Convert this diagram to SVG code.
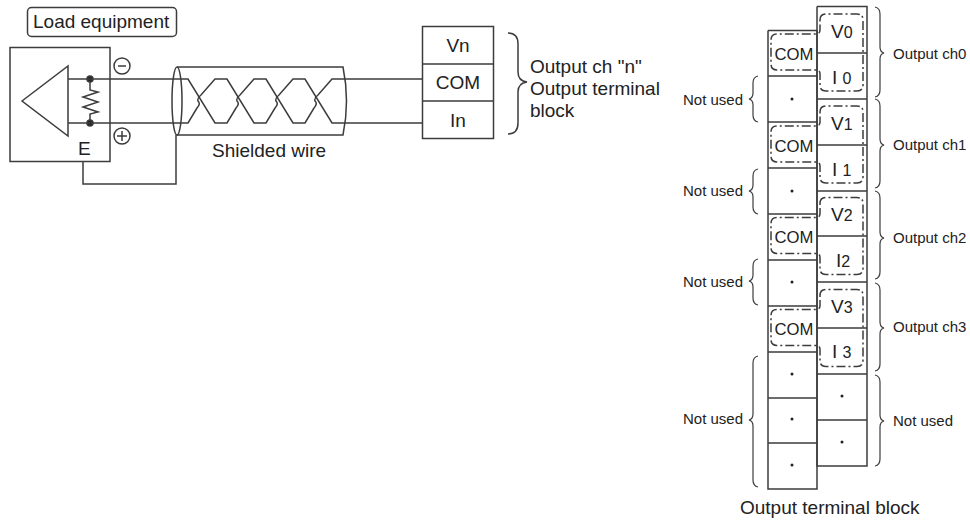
<svg xmlns="http://www.w3.org/2000/svg" width="970" height="520" viewBox="0 0 970 520">
<defs>
<path id="dash" d="M820 20Q820 14 826 14H857Q863 14 863 20V85Q863 91 857 91H826Q820 91 820 85V74Q820 70 816 70H777Q771 70 771 64V40Q771 34 777 34H816Q820 34 820 30Z"/>
</defs>
<style>
text{font-family:"Liberation Sans",Arial,sans-serif;fill:#222;font-size:19px}
.s{font-size:15px}
.m{font-size:16.700px}
.c{text-anchor:middle}
.sub{font-size:16px}
path,rect,line,circle,ellipse,polygon{stroke:#3c3c3c;stroke-width:1.5;fill:none}
.dd{stroke-dasharray:9 3 2 3;stroke-width:1.3;fill:none;stroke:#3c3c3c}
.d{fill:#222;stroke:none}
</style>
<rect width="970" height="520" style="fill:#fff;stroke:none"/>
<g id="load-label"><rect x="27.500" y="7.500" width="149" height="29" rx="4"/><text x="33" y="28">Load equipment</text></g>
<g id="load-equipment">
<rect x="10" y="47.500" width="100" height="114"/>
<polygon points="22,101 68,66 68,136"/>
<path d="M90 79V90L98 92L83 97L98 102L83 107L98 112L90 114V123"/>
<circle cx="90" cy="79" r="3" style="fill:#222"/><circle cx="90" cy="123" r="3" style="fill:#222"/>
<circle cx="122" cy="66" r="8"/><path d="M118 66H126"/>
<circle cx="122" cy="136" r="8"/><path d="M117 136H127M122 131V141"/>
<text x="78" y="155">E</text>
</g>
<g id="connectors">
<path d="M68 79H188L215 123H227L236 108Q240 104 237 101Q236 98 240 95L254 79H266L293 123H305L314 108Q318 104 315 101Q314 98 318 95L332 79H422"/>
<path d="M68 123H188L197 108Q201 104 198 101Q197 98 201 95L215 79H227L254 123H266L275 108Q279 104 276 101Q275 98 279 95L293 79H305L332 123H422"/>
<path d="M83 162V184H176V135"/>
</g>
<g id="shielded-wire">
<ellipse cx="177" cy="101" rx="5" ry="34"/>
<path d="M177 67H343Q350 101 343 135H177"/>
<text x="212" y="157">Shielded wire</text>
</g>
<g id="terminal-block-n">
<rect x="422.500" y="26.500" width="71" height="112"/>
<path d="M422 64H493M422 101H493"/>
<text x="458" y="52" class="c">Vn</text><text x="458" y="89" class="c">COM</text><text x="458" y="127" class="c">In</text>
<path d="M508 33Q518 33 518 44V72Q518 81 527 82Q518 83 518 92V123Q518 134 508 134"/>
<text x="530" y="73">Output ch "n"</text><text x="530" y="95">Output terminal</text><text x="530" y="117">block</text>
</g>
<g id="output-terminal-block">
<path d="M817 6.500H867V466H817V6.500M817 53H867M817 99H867M817 145H867M817 191H867M817 236H867M817 282H867M817 328H867M817 374H867M817 420H867"/>
<path d="M768 30.500H817M768 30.500V489H817V30M768 76H817M768 122H817M768 168H817M768 214H817M768 260H817M768 306H817M768 352H817M768 398H817M768 443H817"/>
<use href="#dash" class="dd"/>
<use href="#dash" y="92" class="dd"/>
<use href="#dash" y="183.500" class="dd"/>
<use href="#dash" y="275.500" class="dd"/>
<text x="831" y="38">V<tspan class="sub">0</tspan></text><text x="832" y="84">I <tspan class="sub">0</tspan></text>
<text x="831" y="130">V<tspan class="sub">1</tspan></text><text x="832" y="176">I <tspan class="sub">1</tspan></text>
<text x="831" y="221">V<tspan class="sub">2</tspan></text><text x="836" y="267">I<tspan class="sub">2</tspan></text>
<text x="831" y="313">V<tspan class="sub">3</tspan></text><text x="832" y="358">I <tspan class="sub">3</tspan></text>
<text x="794" y="60" class="m c">COM</text><text x="794" y="152" class="m c">COM</text><text x="794" y="243" class="m c">COM</text><text x="794" y="335" class="m c">COM</text>
<circle class="d" cx="792" cy="99" r="1.500"/><circle class="d" cx="792" cy="191" r="1.500"/><circle class="d" cx="792" cy="282" r="1.500"/><circle class="d" cx="792" cy="374" r="1.500"/><circle class="d" cx="792" cy="419" r="1.500"/><circle class="d" cx="792" cy="465" r="1.500"/><circle class="d" cx="842" cy="396" r="1.500"/><circle class="d" cx="842" cy="442" r="1.500"/>
<g>
<path style="stroke-width:1.200" d="M875 7Q880 8 880 14V47Q880 52 884 53Q880 54 880 59V90Q880 96 875 97"/>
<path style="stroke-width:1.200" d="M875 99Q880 100 880 106V139Q880 144 884 145Q880 146 880 151V181Q880 187 875 188"/>
<path style="stroke-width:1.200" d="M875 191Q880 192 880 198V232Q880 237 884 238Q880 239 880 244V272Q880 278 875 279"/>
<path style="stroke-width:1.200" d="M875 283Q880 284 880 290V322Q880 327 884 328Q880 329 880 334V364Q880 370 875 371"/>
<path style="stroke-width:1.200" d="M875 375Q880 376 880 382V415Q880 420 884 421Q880 422 880 427V459Q880 465 875 466"/>
<path style="stroke-width:1.200" d="M758 76Q753 77 753 83V93Q753 98 749 99Q753 100 753 105V115Q753 121 758 122"/>
<path style="stroke-width:1.200" d="M758 169Q753 170 753 176V185Q753 190 749 191Q753 192 753 197V207Q753 213 758 214"/>
<path style="stroke-width:1.200" d="M758 259Q753 260 753 266V275Q753 280 749 281Q753 282 753 287V298Q753 304 758 305"/>
<path style="stroke-width:1.200" d="M758 356Q753 357 753 363V414Q753 419 749 420Q753 421 753 426V480Q753 486 758 487"/>
</g>
<text x="893" y="59" class="s">Output ch0</text><text x="893" y="150" class="s">Output ch1</text><text x="893" y="243" class="s">Output ch2</text><text x="893" y="332" class="s">Output ch3</text><text x="893" y="426" class="s">Not used</text>
<text x="683" y="105" class="s">Not used</text><text x="683" y="196" class="s">Not used</text><text x="683" y="287" class="s">Not used</text><text x="683" y="424" class="s">Not used</text>
<text x="740" y="514">Output terminal block</text>
</g>
</svg>
